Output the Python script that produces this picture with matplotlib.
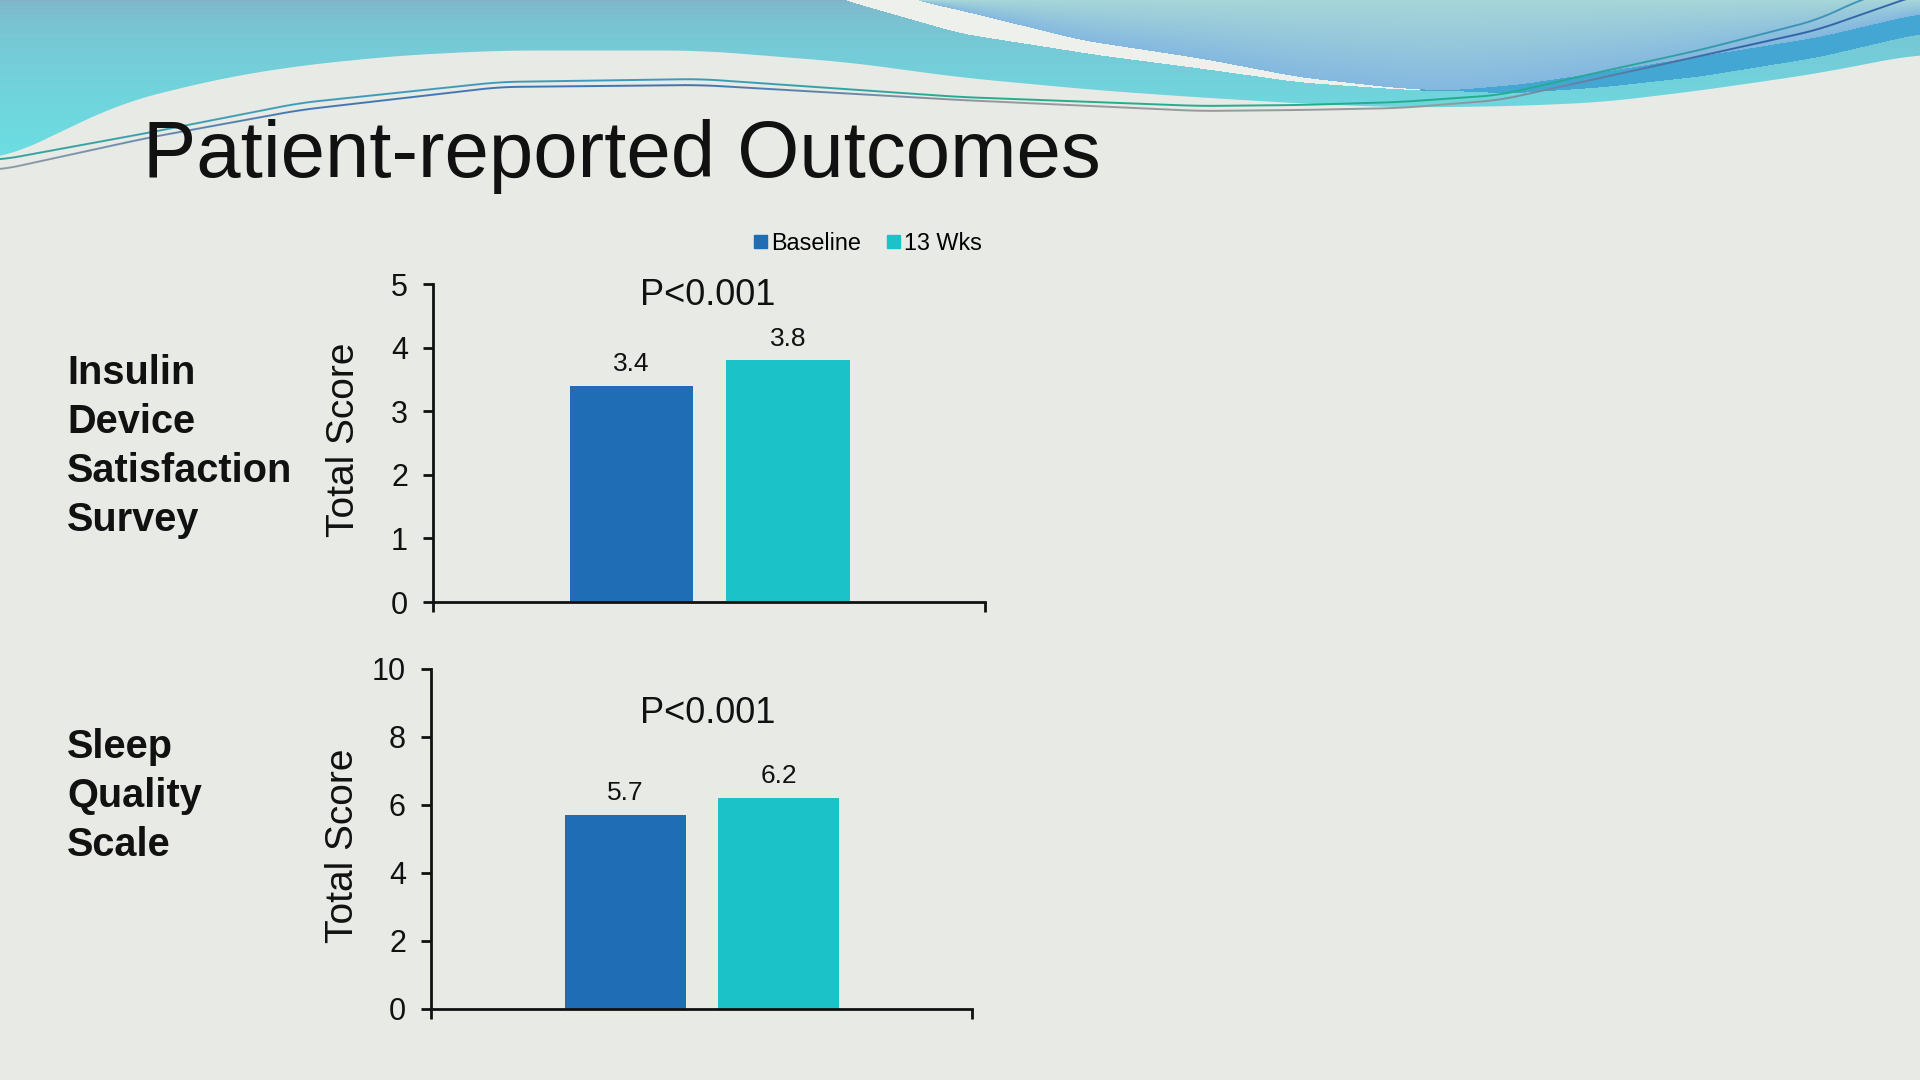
import numpy as np
import matplotlib.pyplot as plt
from matplotlib.patches import Patch
from matplotlib.collections import LineCollection
from matplotlib.colors import to_rgb

plt.rcParams['font.family'] = ['Liberation Sans', 'DejaVu Sans']

# data
title = 'Patient-reported Outcomes'
series = ['Baseline', '13 Wks']
bar_colors = ['#1f6db4', '#1bc3c8']
panel_names = ['Insulin\nDevice\nSatisfaction\nSurvey', 'Sleep\nQuality\nScale']
idss_scores = [3.4, 3.8]
sleep_scores = [5.7, 6.2]
p_values = ['P<0.001', 'P<0.001']
y_max = [5, 10]
y_step = [1, 2]

BG = '#e8eae6'
W, H = 1920, 1080

fig = plt.figure(figsize=(19.2, 10.8), dpi=100, facecolor=BG)


def curve(pts, xs, k=81):
    px, py = zip(*pts)
    y = np.interp(xs, px, py)
    pad = np.pad(y, k // 2, mode='edge')
    return np.convolve(pad, np.ones(k) / k, mode='valid')


def color_ramp(stops, xs):
    sx = [s[0] for s in stops]
    rgb = np.array([to_rgb(s[1]) for s in stops])
    return np.column_stack([np.interp(xs, sx, rgb[:, j]) for j in range(3)])


# header swoosh decoration, drawn in pixel space
deco = fig.add_axes([0, 0, 1, 1], zorder=0)
deco.set_xlim(0, W)
deco.set_ylim(H, 0)
deco.axis('off')

xs = np.arange(W)
lower_edge = curve([(0, 160), (122, 102), (220, 78), (300, 65), (400, 55),
                    (500, 50), (700, 50), (850, 62), (960, 77), (1100, 90),
                    (1200, 97), (1300, 103), (1400, 107), (1500, 106),
                    (1600, 102), (1700, 90), (1817, 73), (1920, 53)], xs)
upper = curve([(780, -60), (915, 0), (960, 10), (1082, 40), (1200, 58),
               (1300, 77), (1400, 88), (1450, 90), (1520, 84), (1600, 72),
               (1817, 37), (1920, 13)], xs, k=41)
stripe_low = curve([(700, -60), (845, 0), (960, 33), (1100, 55), (1200, 68),
                    (1300, 82), (1400, 89), (1430, 90)], xs, k=41)
band_bot = curve([(1440, 90), (1511, 93), (1600, 87), (1700, 76), (1817, 57),
                  (1920, 33)], xs, k=41)

hh = 200
X, Y = np.meshgrid(xs, np.arange(hh))
L = lower_edge[X]
U = upper[X]
img = np.zeros((hh, W, 4))

# left region: grey-blue on top fading to bright cyan lower down
t = np.clip(Y / 150, 0, 1)[..., None] ** 0.5
top_c = np.array(to_rgb('#82b2c8'))
bot_c = np.array(to_rgb('#6cdde2'))
img[..., :3] = top_c * (1 - t) + bot_c * t

# right region above the stripe
right = Y < U
tr = np.clip(Y / np.maximum(U, 1), 0, 1)[..., None]
rc = (np.array(to_rgb('#a6d6d8')) * (1 - tr)
      + np.array(to_rgb('#84b8e0')) * tr)
img[..., :3] = np.where(right[..., None], rc, img[..., :3])

# white stripe
stripe = (Y >= U) & (Y < stripe_low[X]) & (X < 1430)
img[..., :3] = np.where(stripe[..., None], np.array(to_rgb('#eef0ec')),
                        img[..., :3])

# darker blue band on the right
band = (Y >= U) & (Y < band_bot[X]) & (X >= 1420)
img[..., :3] = np.where(band[..., None], np.array(to_rgb('#44a7d3')),
                        img[..., :3])

img[..., 3] = np.clip(L - Y + 0.5, 0, 1)
deco.imshow(img, extent=(0, W, hh, 0), interpolation='bilinear', zorder=1)

# two thin accent lines
line_a = curve([(0, 160), (147, 133), (300, 103), (500, 82), (700, 79),
                (960, 97), (1200, 106), (1300, 105), (1400, 102), (1500, 95),
                (1600, 72), (1700, 50), (1817, 20), (1860, 0), (1920, -20)],
               xs, k=41)
line_b = curve([(0, 170), (147, 138), (300, 110), (500, 87), (700, 85),
                (960, 100), (1200, 111), (1300, 110), (1400, 108), (1500, 100),
                (1600, 78), (1700, 56), (1817, 30), (1903, 0), (1920, -6)],
               xs, k=41)
ramp_a = color_ramp([(0, '#2aa39a'), (300, '#3d9ab8'), (700, '#3d9ab8'),
                     (1000, '#22ad8c'), (1550, '#22ad8c'), (1800, '#3a90b8')],
                    xs[:-1])
ramp_b = color_ramp([(0, '#8a9aa5'), (300, '#3f75b2'), (700, '#3f75b2'),
                     (1000, '#959a9c'), (1450, '#959a9c'), (1750, '#2f5fa5')],
                    xs[:-1])
for yy, cc in [(line_b, ramp_b), (line_a, ramp_a)]:
    pts = np.column_stack([xs, yy]).reshape(-1, 1, 2)
    segs = np.concatenate([pts[:-1], pts[1:]], axis=1)
    deco.add_collection(LineCollection(segs, colors=cc, linewidths=1.4,
                                       zorder=2))

fig.text(143 / W, 1 - 177 / H, title, fontsize=57.4, va='baseline', ha='left',
         color='#111111', zorder=3)

# chart panels
panel_boxes = [[433 / W, 1 - 602 / H, 552 / W, 318 / H],
               [431 / W, 1 - 1009 / H, 541 / W, 340 / H]]
panel_scores = [idss_scores, sleep_scores]
p_x = [0.487, 0.534]
p_y = [4.82, 8.7]
label_y = [0.51, 0.48]
name_top = [354, 728]

for i in range(2):
    ax = fig.add_axes(panel_boxes[i], zorder=3)
    ax.patch.set_alpha(0)
    pos = np.arange(len(series))
    bars = ax.bar(pos, panel_scores[i], width=0.79, color=bar_colors)
    ax.bar_label(bars, labels=[f'{v:.1f}' for v in panel_scores[i]],
                 padding=7, fontsize=19, color='#111111')
    ax.set_xlim(-1.27, 2.26)
    ax.set_ylim(0, y_max[i])
    ax.set_yticks(np.arange(0, y_max[i] + 1, y_step[i]))
    ax.set_xticks([-1.27, 2.26])
    ax.set_xticklabels([])
    for s in ['top', 'right']:
        ax.spines[s].set_visible(False)
    for s in ['left', 'bottom']:
        ax.spines[s].set_linewidth(2)
        ax.spines[s].set_color('#111111')
    ax.tick_params(axis='both', direction='out', length=7, width=2,
                   color='#111111', labelsize=22, pad=11, labelcolor='#111111')
    ax.text(p_x[i], p_y[i], p_values[i], ha='center', va='center',
            fontsize=26, color='#111111')
    ax.set_ylabel('Total Score', fontsize=28, color='#111111')
    ax.yaxis.set_label_coords(-0.129, label_y[i])
    fig.text(67 / W, 1 - name_top[i] / H, panel_names[i], fontsize=28.6,
             fontweight='bold', ha='left', va='top', linespacing=1.37,
             color='#111111')

handles = [Patch(color=c, label=s) for c, s in zip(bar_colors, series)]
fig.legend(handles=handles, loc='center', bbox_to_anchor=(868 / W, 1 - 243 / H),
           ncol=2, frameon=False, fontsize=16.8, handlelength=0.55,
           handleheight=0.5, handletextpad=0.2, columnspacing=1.1)

fig.savefig('out.png', dpi=100, facecolor=BG)
